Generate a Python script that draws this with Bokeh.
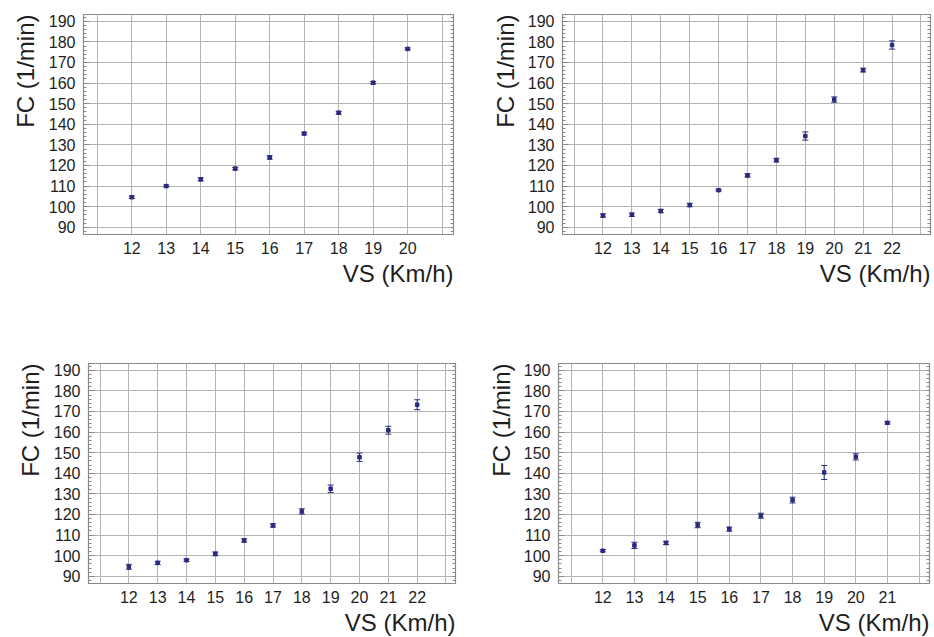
from bokeh.plotting import figure
from bokeh.models import Range1d, FixedTicker, LinearAxis, Whisker, TeeHead, ColumnDataSource, Title
from bokeh.layouts import column, row
from bokeh.embed import file_html
from bokeh.resources import INLINE

# ---- data ----
speed_a = [12, 13, 14, 15, 16, 17, 18, 19, 20]
fc_a = [104.6, 110.0, 113.3, 118.5, 123.9, 135.5, 145.6, 160.2, 176.6]
err_a = [0.6, 0.5, 0.8, 0.6, 0.8, 0.6, 0.7, 0.6, 0.5]

speed_b = [12, 13, 14, 15, 16, 17, 18, 19, 20, 21, 22]
fc_b = [95.7, 96.1, 97.9, 100.8, 108.0, 115.2, 122.6, 134.3, 152.0, 166.3, 178.5]
err_b = [0.8, 0.8, 0.8, 0.8, 0.4, 0.8, 0.9, 2.0, 1.3, 0.9, 2.0]

speed_c = [12, 13, 14, 15, 16, 17, 18, 19, 20, 21, 22]
fc_c = [94.6, 96.5, 97.8, 100.9, 107.4, 114.7, 121.5, 132.5, 147.8, 160.9, 173.3]
err_c = [1.2, 0.8, 0.6, 0.9, 0.8, 0.8, 1.3, 1.8, 2.0, 1.9, 2.4]

speed_d = [12, 13, 14, 15, 16, 17, 18, 19, 20, 21]
fc_d = [102.4, 105.0, 106.2, 114.9, 112.9, 119.4, 127.0, 140.4, 148.0, 164.5]
err_d = [0.5, 1.5, 0.8, 1.3, 1.0, 1.2, 1.4, 3.4, 1.5, 0.6]

y_ticks = [90, 100, 110, 120, 130, 140, 150, 160, 170, 180, 190]
y_minor = list(range(88, 194, 2))
x_title = "VS (Km/h)"
y_title = "FC (1/min)"

FONT = "Liberation Sans"
MARK = "#2a2a7e"
GRID = "#b4b4b4"
FRAME = "#8a8a8a"
TEXT = "#1e1e1e"


def make_panel(xs, ys, errs, left, top, right, bottom, fw, ystand):
    xmax = max(xs)
    p = figure(frame_width=fw, frame_height=220,
               x_range=Range1d(10.6, xmax + 1.33), y_range=Range1d(86.5, 193.3),
               output_backend="svg", toolbar_location=None,
               min_border_left=left, min_border_top=top,
               min_border_right=right, min_border_bottom=bottom,
               background_fill_color="white", border_fill_color="white",
               outline_line_color=FRAME, outline_line_width=1.2)
    src = ColumnDataSource(dict(x=xs, y=ys,
                                lo=[v - e for v, e in zip(ys, errs)],
                                hi=[v + e for v, e in zip(ys, errs)]))
    w = Whisker(source=src, base="x", lower="lo", upper="hi",
                line_color=MARK, line_width=1,
                upper_head=TeeHead(size=6, line_color=MARK, line_width=1),
                lower_head=TeeHead(size=6, line_color=MARK, line_width=1))
    p.add_layout(w)
    p.scatter("x", "y", source=src, marker="square", size=3.5,
              fill_color=MARK, line_color=MARK)

    # grids
    p.xgrid.ticker = FixedTicker(ticks=list(range(11, xmax + 2)))
    p.ygrid.ticker = FixedTicker(ticks=y_ticks)
    for g in (p.xgrid, p.ygrid):
        g.grid_line_color = GRID
        g.grid_line_width = 1

    # x axis
    xa = p.xaxis[0]
    xa.ticker = FixedTicker(ticks=xs)
    xa.major_tick_in = 0
    xa.major_tick_out = 0
    xa.minor_tick_in = 0
    xa.minor_tick_out = 0
    xa.axis_line_color = FRAME
    xa.major_label_text_font = FONT
    xa.major_label_text_font_size = "16px"
    xa.major_label_text_color = TEXT
    xa.major_label_standoff = 7

    # y axis
    ya = p.yaxis[0]
    ya.ticker = FixedTicker(ticks=y_ticks, minor_ticks=y_minor)
    ya.major_tick_in = 6
    ya.major_tick_out = 0
    ya.minor_tick_in = 3
    ya.minor_tick_out = 0
    ya.major_tick_line_color = FRAME
    ya.minor_tick_line_color = FRAME
    ya.axis_line_color = FRAME
    ya.major_label_text_font = FONT
    ya.major_label_text_font_size = "16px"
    ya.major_label_text_color = TEXT
    ya.major_label_standoff = 8

    # axis titles, aligned to the far ends like the reference
    p.add_layout(Title(text=x_title, align="right", text_font=FONT,
                       text_font_size="24px", text_font_style="normal",
                       text_color=TEXT, standoff=2), "below")
    p.add_layout(Title(text=y_title, align="right", text_font=FONT,
                       text_font_size="24px", text_font_style="normal",
                       text_color=TEXT, standoff=ystand), "left")

    # right axis: inward ticks only, no labels
    ra = LinearAxis(ticker=FixedTicker(ticks=[], minor_ticks=y_minor),
                    major_tick_in=0, major_tick_out=0,
                    minor_tick_in=3, minor_tick_out=0,
                    minor_tick_line_color=FRAME,
                    axis_line_color=FRAME)
    p.add_layout(ra, "right")
    return p


p1 = make_panel(speed_a, fc_a, err_a, left=83, top=10, right=15, bottom=100, fw=370, ystand=14)
p2 = make_panel(speed_b, fc_b, err_b, left=94, top=14, right=4, bottom=96, fw=368, ystand=12)
p3 = make_panel(speed_c, fc_c, err_c, left=88, top=33, right=15, bottom=54, fw=367, ystand=14)
p4 = make_panel(speed_d, fc_d, err_d, left=88, top=33, right=5, bottom=54, fw=371, ystand=12)

layout = column(row(p1, p2), row(p3, p4))
open("out.html", "w").write(file_html(layout, INLINE))
